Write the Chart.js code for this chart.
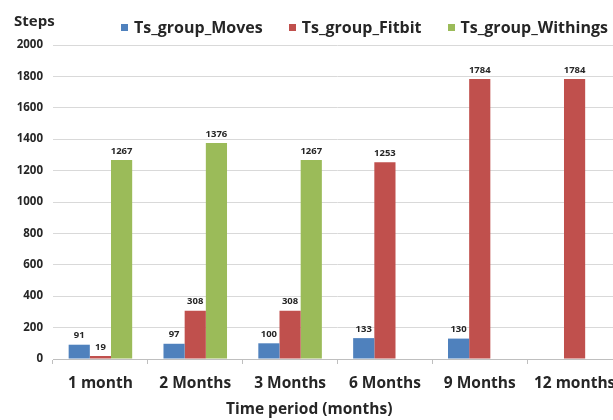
<!DOCTYPE html>
<html>
<head>
<meta charset="utf-8">
<script src="https://cdn.jsdelivr.net/npm/chart.js@4.4.1/dist/chart.umd.min.js"></script>
<style>
  html, body { margin: 0; padding: 0; background: #fff; }
  #wrap { position: relative; width: 613px; height: 420px; overflow: hidden; font-family: 'Open Sans', sans-serif; color: #262626; }
  #stepsChart { position: absolute; left: 0; top: 0; }
  .caption { position: absolute; font-weight: bold; line-height: 18px; white-space: nowrap; }
  #yCaption { left: 14px; top: 11px; font-size: 15px; }
  #xCaption { left: 226px; top: 399px; font-size: 15.5px; }
  #legend { position: absolute; left: 121px; top: 18px; display: flex; line-height: 18px; font-size: 16px; font-weight: bold; white-space: nowrap; }
  #legend .item { display: flex; align-items: center; margin-right: 26px; }
  #legend .swatch { width: 7px; height: 7px; margin-right: 6px; }
</style>
</head>
<body>
<div id="wrap">
  <canvas id="stepsChart" width="630" height="420"></canvas>
  <div class="caption" id="yCaption">Steps</div>
  <div id="legend"></div>
  <div class="caption" id="xCaption">Time period (months)</div>
</div>
<script>
const periods = ['1 month', '2 Months', '3 Months', '6 Months', '9 Months', '12 months'];
const seriesNames = ['Ts_group_Moves', 'Ts_group_Fitbit', 'Ts_group_Withings'];
const movesSteps = [91, 97, 100, 133, 130, null];
const fitbitSteps = [19, 308, 308, 1253, 1784, 1784];
const withingsSteps = [1267, 1376, 1267, null, null, null];
const seriesColors = ['#4f81bd', '#c0504d', '#9bbb59'];
const yTicks = { min: 0, max: 2000, step: 200 };

const textColor = '#262626';
const font = 'Open Sans';

// value printed above every bar
const barValueLabels = {
  id: 'barValueLabels',
  afterDatasetsDraw(chart) {
    const ctx = chart.ctx;
    ctx.save();
    ctx.font = 'bold 9.5px "' + font + '"';
    ctx.fillStyle = textColor;
    ctx.textAlign = 'center';
    ctx.textBaseline = 'middle';
    chart.data.datasets.forEach((ds, i) => {
      chart.getDatasetMeta(i).data.forEach((bar, j) => {
        const v = ds.data[j];
        if (v == null) return;
        ctx.fillText(String(v), bar.x, bar.y - 9);
      });
    });
    ctx.restore();
  }
};

const allSeries = [movesSteps, fitbitSteps, withingsSteps];

// html legend
const legendEl = document.getElementById('legend');
seriesNames.forEach((name, i) => {
  const item = document.createElement('div');
  item.className = 'item';
  const sw = document.createElement('span');
  sw.className = 'swatch';
  sw.style.background = seriesColors[i];
  const label = document.createElement('span');
  label.textContent = name;
  item.appendChild(sw);
  item.appendChild(label);
  legendEl.appendChild(item);
});

new Chart(document.getElementById('stepsChart'), {
  type: 'bar',
  data: {
    labels: periods,
    datasets: seriesNames.map((name, i) => ({
      label: name,
      data: allSeries[i],
      backgroundColor: seriesColors[i],
      categoryPercentage: 0.67,
      barPercentage: 1.0
    }))
  },
  options: {
    responsive: false,
    animation: false,
    layout: { padding: { top: 45, right: 8, left: 0, bottom: 0 } },
    plugins: {
      legend: { display: false },
      tooltip: { enabled: false }
    },
    scales: {
      x: {
        afterFit: (axis) => { axis.height = 61; },
        grid: { drawOnChartArea: false, drawTicks: true, tickLength: 5, color: '#bfbfbf', offset: true },
        border: { color: '#bfbfbf' },
        ticks: { color: textColor, padding: 10, font: { family: font, size: 15.5, weight: 'bold' } }
      },
      y: {
        min: yTicks.min,
        max: yTicks.max,
        afterFit: (axis) => { axis.width = 53; },
        grid: { color: '#d9d9d9', drawTicks: false },
        border: { display: false },
        ticks: {
          stepSize: yTicks.step,
          callback: (v) => String(v),
          color: textColor,
          padding: 10,
          font: { family: font, size: 11.5, weight: 'bold' }
        }
      }
    }
  },
  plugins: [barValueLabels]
});
</script>
</body>
</html>
